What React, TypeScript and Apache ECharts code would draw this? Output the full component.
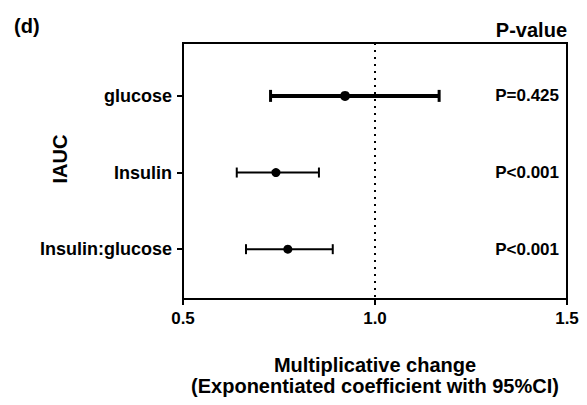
import React, { useEffect, useRef } from "react";
import * as echarts from "echarts";

const categories = ["glucose", "Insulin", "Insulin:glucose"];
const estimates = [0.922, 0.742, 0.773];
const lowerCI = [0.728, 0.64, 0.664];
const upperCI = [1.167, 0.854, 0.89];
const pValues = ["P=0.425", "P<0.001", "P<0.001"];
const xTicks = [0.5, 1.0, 1.5];

const FONT = "'Liberation Sans', Arial, sans-serif";

export default function App() {
  const ref = useRef<HTMLDivElement>(null);
  useEffect(() => {
    if (!ref.current) return;
    const chart = echarts.init(ref.current, null, { renderer: "svg" });
    const rows = categories.map((_, i) => i);
    chart.setOption({
      animation: false,
      backgroundColor: "#fff",
      textStyle: { fontFamily: FONT, color: "#000" },
      grid: {
        left: 183,
        right: 20,
        top: 43,
        bottom: 106,
        show: true,
        borderColor: "#000",
        borderWidth: 2,
        backgroundColor: "transparent",
      },
      xAxis: {
        type: "value",
        min: 0.5,
        max: 1.5,
        interval: 0.5,
        splitLine: { show: false },
        axisLine: { show: true, onZero: false, lineStyle: { color: "#000", width: 2 } },
        axisTick: { show: true, length: 6, lineStyle: { color: "#000", width: 2 } },
        axisLabel: {
          color: "#000",
          fontSize: 17,
          fontWeight: "bold",
          fontFamily: FONT,
          margin: 11,
          customValues: xTicks,
          formatter: (v: number) => v.toFixed(1),
        },
        name: "Multiplicative change\n(Exponentiated coefficient with 95%CI)",
        nameLocation: "middle",
        nameGap: 55,
        nameTextStyle: {
          color: "#000",
          fontSize: 20,
          fontWeight: "bold",
          fontFamily: FONT,
          lineHeight: 21,
        },
      },
      yAxis: {
        type: "value",
        inverse: true,
        min: -0.69,
        max: 2.65,
        splitLine: { show: false },
        axisLine: { show: true, onZero: false, lineStyle: { color: "#000", width: 2 } },
        axisTick: {
          show: true,
          length: 6,
          customValues: rows,
          lineStyle: { color: "#000", width: 2 },
        },
        axisLabel: {
          color: "#000",
          fontSize: 18,
          fontWeight: "bold",
          fontFamily: FONT,
          margin: 11,
          customValues: rows,
          formatter: (v: number) => categories[Math.round(v)] ?? "",
        },
      },
      series: [
        {
          type: "custom",
          data: rows.map((i) => [i, lowerCI[i], upperCI[i]]),
          encode: { x: [1, 2], y: 0 },
          renderItem: (params: any, api: any) => {
            const r = api.value(0);
            const lo = api.value(1);
            const hi = api.value(2);
            const a = api.coord([lo, r]);
            const b = api.coord([hi, r]);
            const lw = r === 0 ? 4 : 2;
            const cap = r === 0 ? 6 : 5;
            const capW = r === 0 ? 3 : 2;
            return {
              type: "group",
              children: [
                {
                  type: "line",
                  shape: { x1: a[0], y1: a[1], x2: b[0], y2: b[1] },
                  style: { stroke: "#000", lineWidth: lw },
                },
                {
                  type: "line",
                  shape: { x1: a[0], y1: a[1] - cap, x2: a[0], y2: a[1] + cap },
                  style: { stroke: "#000", lineWidth: capW },
                },
                {
                  type: "line",
                  shape: { x1: b[0], y1: b[1] - cap, x2: b[0], y2: b[1] + cap },
                  style: { stroke: "#000", lineWidth: capW },
                },
              ],
            };
          },
          markLine: {
            silent: true,
            symbol: "none",
            label: { show: false },
            lineStyle: { color: "#000", width: 2, type: [2, 5] },
            data: [{ xAxis: 1.0 }],
          },
          z: 2,
        },
        {
          type: "scatter",
          data: rows.map((i) => [estimates[i], i]),
          symbol: "circle",
          symbolSize: (v: number[]) => (v[1] === 0 ? 10 : 9),
          itemStyle: { color: "#000", opacity: 1 },
          z: 3,
        },
        {
          type: "scatter",
          data: rows.map((i) => ({ value: [1.5, i], label: { formatter: pValues[i] } })),
          symbolSize: 0,
          itemStyle: { color: "#000", opacity: 1 },
          label: {
            show: true,
            position: "left",
            distance: 8,
            color: "#000",
            opacity: 1,
            fontSize: 17,
            fontWeight: "bold",
            fontFamily: FONT,
          },
          z: 3,
        },
      ],
      graphic: [
        {
          type: "text",
          left: 14,
          top: 16,
          style: { text: "(d)", fill: "#000", font: `bold 20px ${FONT}` },
        },
        {
          type: "text",
          right: 20,
          top: 20,
          style: { text: "P-value", fill: "#000", font: `bold 20px ${FONT}` },
        },
        {
          type: "text",
          x: 60,
          y: 159,
          rotation: Math.PI / 2,
          style: {
            text: "IAUC",
            fill: "#000",
            font: `bold 20px ${FONT}`,
            align: "center",
            verticalAlign: "middle",
          },
        },
      ],
    });
    return () => chart.dispose();
  }, []);
  return (
    <div
      ref={ref}
      style={{ position: "fixed", left: 0, top: 0, width: 587, height: 405 }}
    />
  );
}
